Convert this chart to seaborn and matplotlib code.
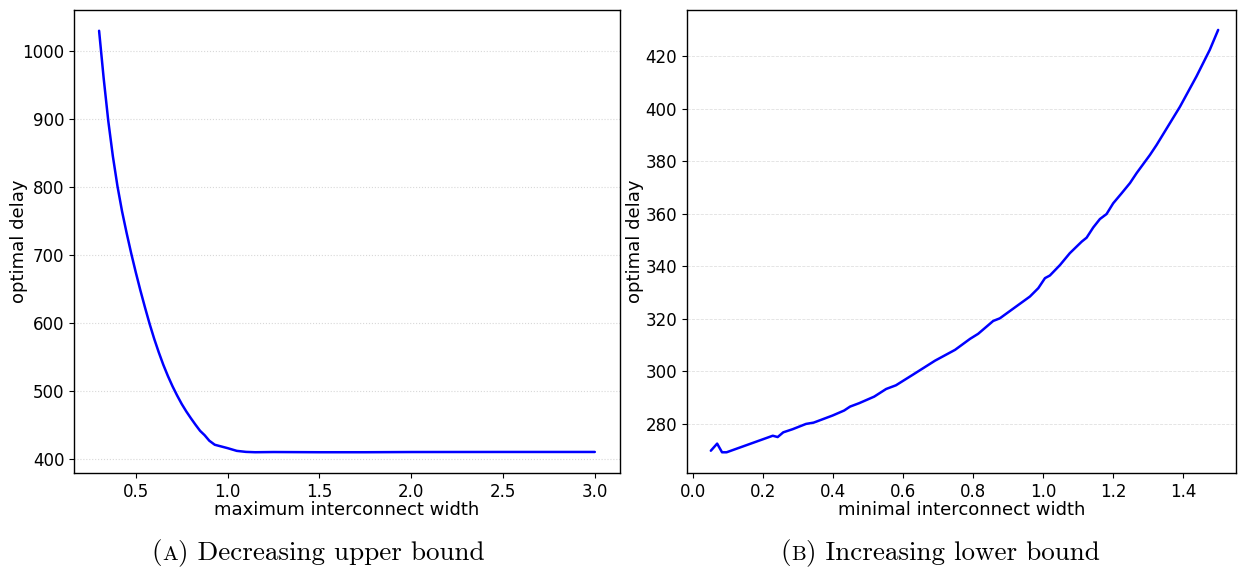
import matplotlib
matplotlib.use("Agg")
import matplotlib.pyplot as plt
import seaborn as sns
from matplotlib.offsetbox import TextArea, HPacker, AnchoredOffsetbox

# (A) upper bound sweep
upper_width = [0.30, 0.325, 0.35, 0.375, 0.40, 0.425, 0.45, 0.475, 0.50, 0.525,
               0.55, 0.575, 0.60, 0.625, 0.65, 0.675, 0.70, 0.725, 0.75, 0.775,
               0.80, 0.825, 0.85, 0.875, 0.90, 0.93, 1.00, 1.05, 1.10, 1.15,
               1.25, 1.50, 1.75, 2.00, 2.50, 3.00]
upper_delay = [1030, 960, 897.5, 845.5, 801.5, 764.5, 732.5, 702.5, 674.5, 648,
               623, 599, 577, 557, 538.5, 522, 507, 493.5, 481, 470,
               460, 450.5, 441.5, 435, 427, 421, 416, 412, 410.5, 410,
               410.3, 410, 410, 410.3, 410.4, 410.4]

# (B) lower bound sweep
lower_width = [0.050, 0.068, 0.082, 0.095, 0.227, 0.241, 0.257, 0.284, 0.322, 0.344,
               0.398, 0.431, 0.448, 0.474, 0.517, 0.551, 0.579, 0.627, 0.691, 0.748,
               0.791, 0.814, 0.857, 0.876, 0.962, 0.986, 1.005, 1.019, 1.048, 1.076,
               1.110, 1.124, 1.143, 1.162, 1.181, 1.200, 1.224, 1.248, 1.267, 1.305,
               1.324, 1.391, 1.438, 1.476, 1.500]
lower_delay = [269.8, 272.5, 269.2, 269.2, 275.5, 275.0, 276.8, 278.0, 280.0, 280.5,
               283.2, 285.1, 286.6, 287.9, 290.4, 293.3, 294.7, 298.7, 304.1, 308.2,
               312.4, 314.3, 319.2, 320.2, 328.5, 331.7, 335.5, 336.5, 340.5, 345.0,
               349.4, 350.9, 354.8, 358.0, 359.9, 364.0, 367.8, 371.7, 375.5, 382.4,
               386.2, 400.8, 412.3, 422.4, 430.0]

sns.set_theme(style="ticks", rc={
    "axes.edgecolor": "black",
    "axes.linewidth": 1.0,
    "xtick.color": "black",
    "ytick.color": "black",
    "xtick.major.size": 3.5,
    "ytick.major.size": 3.5,
    "xtick.major.width": 0.8,
    "ytick.major.width": 0.8,
    "text.color": "black",
    "axes.labelcolor": "black",
})
plt.rcParams["font.family"] = ["DejaVu Sans"]

W, H = 1241, 569
fig = plt.figure(figsize=(W / 100, H / 100), dpi=100)

def px_axes(x0, x1, y0, y1):
    return fig.add_axes([x0 / W, 1 - y1 / H, (x1 - x0) / W, (y1 - y0) / H])

ax1 = px_axes(74.3, 619.6, 9.7, 473.3)
ax2 = px_axes(686.7, 1236, 9.7, 473.3)

sns.lineplot(x=upper_width, y=upper_delay, ax=ax1, color="#0000ff", lw=1.8)
sns.lineplot(x=lower_width, y=lower_delay, ax=ax2, color="#0000ff", lw=1.8)

ax1.set_xlim(0.165, 3.135)
ax1.set_ylim(379, 1061)
ax2.set_xlim(-0.019, 1.551)
ax2.set_ylim(261.2, 437.7)

ax1.yaxis.grid(True, linestyle=":", color="#d8d8d8", lw=0.8)
ax2.yaxis.grid(True, linestyle="--", color="#e0e0e0", lw=0.6)

for ax, xl, pad in [(ax1, "maximum interconnect width", -4),
                    (ax2, "minimal interconnect width", 1)]:
    ax.tick_params(labelsize=12)
    ax.set_xlabel(xl, fontsize=13, labelpad=0)
    ax.set_ylabel("optimal delay", fontsize=13, labelpad=pad)


def caption(xc, letter, rest):
    tp = dict(family="cmr10", size=19.5, color="black")
    parts = [TextArea("(", textprops=tp),
             TextArea(letter, textprops=dict(tp, size=15)),
             TextArea(") " + rest, textprops=tp)]
    box = HPacker(children=parts, align="baseline", pad=0, sep=0)
    ab = AnchoredOffsetbox(loc="center", child=box, frameon=False, pad=0, borderpad=0,
                           bbox_to_anchor=(xc / W, 1 - 553 / H),
                           bbox_transform=fig.transFigure)
    fig.add_artist(ab)


caption(318, "A", "Decreasing upper bound")
caption(940, "B", "Increasing lower bound")

fig.savefig("out.png", dpi=100)
